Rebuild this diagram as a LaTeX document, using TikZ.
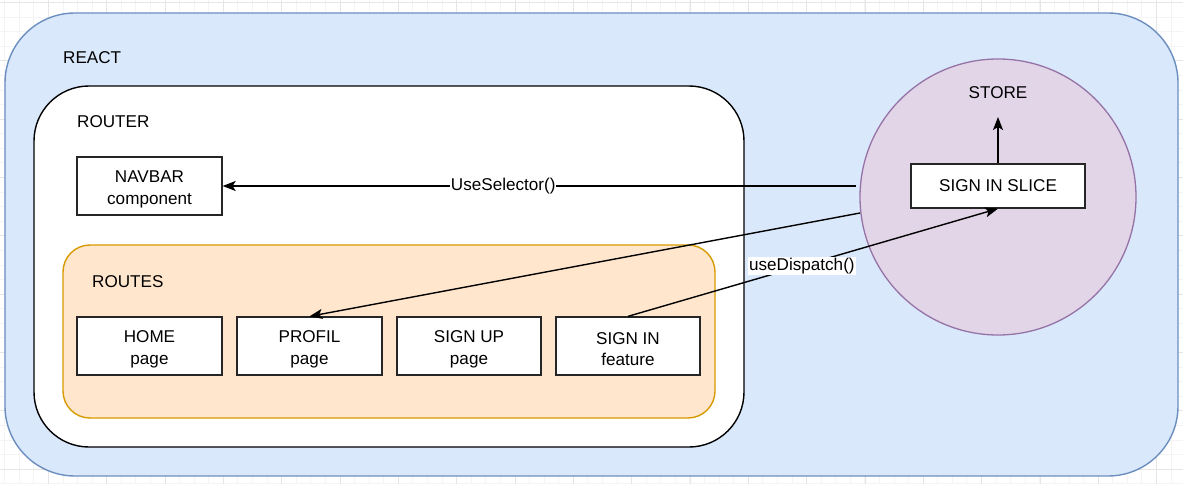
\documentclass[tikz,border=0pt]{standalone}
\usepackage{fontspec}
\setmainfont{Liberation Sans}
\usetikzlibrary{arrows.meta}
\definecolor{reactfill}{HTML}{DAE8FC}
\definecolor{reactline}{HTML}{6C8EBF}
\definecolor{routesfill}{HTML}{FFE6CC}
\definecolor{routesline}{HTML}{D79B00}
\definecolor{storefill}{HTML}{E1D5E7}
\definecolor{storeline}{HTML}{9673A6}
\definecolor{gridminor}{HTML}{F4F4F4}
\definecolor{gridmajor}{HTML}{E6E6E6}
\newcommand{\topstrut}{\rule{0pt}{18.5pt}}
\tikzset{
  lbl/.style={font=\fontsize{17.1}{20}\selectfont, inner sep=0pt},
  pagebox/.style={draw=black!85, fill=white, line width=1.3pt, minimum width=145pt, minimum height=58pt, align=center, font=\fontsize{17.1}{21.5}\selectfont, inner sep=0pt},
  conn/.style={draw=black, line width=1.4pt, -{Stealth[length=13pt,width=10pt,inset=3pt]}},
  edgelbl/.style={fill=white, font=\fontsize{17.1}{20}\selectfont, inner sep=1pt}
}
\begin{document}
\begin{tikzpicture}[x=1pt,y=-1pt]
\useasboundingbox (0,0) rectangle (1183,484);
% background grid
\foreach \i in {0,...,81} {
  \draw[gridminor, line width=0.8pt] ({4.6+14.58*\i},0) -- ({4.6+14.58*\i},484);
}
\foreach \i in {0,...,33} {
  \draw[gridminor, line width=0.8pt] (0,{2.5+14.58*\i}) -- (1183,{2.5+14.58*\i});
}
\foreach \i in {0,...,20} {
  \draw[gridmajor, line width=0.8pt] ({48.3+58.33*\i},0) -- ({48.3+58.33*\i},484);
}
\foreach \i in {0,...,8} {
  \draw[gridmajor, line width=0.8pt] (0,{2.5+58.33*\i}) -- (1183,{2.5+58.33*\i});
}
% REACT
\draw[fill=reactfill, draw=reactline, line width=1.4pt, rounded corners=70pt] (5,13) rectangle (1178,476);
\node[lbl, anchor=west] (react) at (63,57.5) {REACT};
% ROUTER
\draw[fill=white, draw=black, line width=1.4pt, rounded corners=55pt] (34,86) rectangle (744,447);
\node[lbl, anchor=west] (router) at (77,121.5) {ROUTER};
% NAVBAR
\node[pagebox] (navbar) at (149.5,186) {\topstrut NAVBAR\\component};
% ROUTES
\draw[fill=routesfill, draw=routesline, line width=1.4pt, rounded corners=27pt] (63,245) rectangle (715,418);
\node[lbl, anchor=west] (routes) at (92,281.5) {ROUTES};
\node[pagebox] (home) at (149.5,346) {\topstrut HOME\\page};
\node[pagebox] (profil) at (309.5,346) {\topstrut PROFIL\\page};
\node[pagebox, minimum width=144pt] (signup) at (469,346) {\topstrut SIGN UP\\page};
\node[pagebox, minimum width=144pt] (signin) at (628,346) {\topstrut SIGN IN\\feature};
% STORE
\node[circle, fill=storefill, draw=storeline, line width=1.3pt, minimum size=276pt, inner sep=0pt] (store) at (998,197) {};
\node[lbl] (storelbl) at (998,92.5) {STORE};
\node[pagebox, minimum width=174pt, minimum height=44pt] (slice) at (998,186) {SIGN IN SLICE};
\coordinate (storetop) at (998,117);
\coordinate (selstart) at (856,186);
\coordinate (profstart) at (860,213);
% connectors
\draw[conn] (slice.north) -- (storetop);
\draw[conn] (selstart) -- node[edgelbl, pos=0.557] {UseSelector()} (navbar.east |- selstart);
\draw[conn] (profstart) -- (profil.north);
\draw[conn] (signin.north) -- node[edgelbl, pos=0.47] {useDispatch()} (slice.south);
\end{tikzpicture}
\end{document}
